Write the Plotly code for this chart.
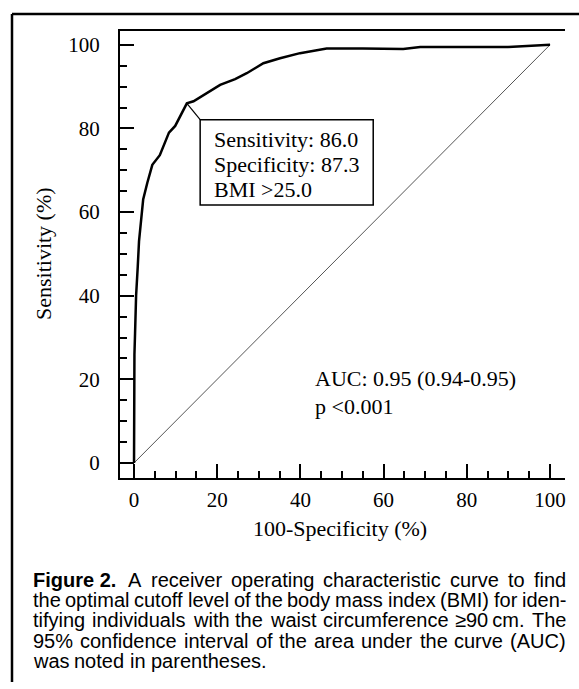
import plotly.graph_objects as go

# ---------------- data ----------------
fpr = [0, 0, 0.1, 0.25, 0.5, 0.9, 1.2, 1.7, 2.2, 3.2, 4.4, 6.2, 8.4, 9.9, 12.7,
       14.3, 17.9, 20.7, 24.3, 27.1, 31.1, 35.1, 39.9, 44.7, 46.3, 55.0, 64.7,
       68.8, 80.0, 90.0, 100.0]
tpr = [0, 20, 26, 31, 40, 47, 53, 58, 63, 67, 71.3, 73.6, 79.0, 80.6, 86.0,
       86.5, 88.8, 90.4, 91.8, 93.2, 95.6, 96.8, 98.0, 98.8, 99.1, 99.1, 99.0,
       99.5, 99.5, 99.5, 100.0]
ref_x = [0, 100]
ref_y = [0, 100]

cut_x, cut_y = 12.7, 86.0
box_lines = ["Sensitivity: 86.0", "Specificity: 87.3", "BMI >25.0"]
auc_lines = ["AUC: 0.95 (0.94-0.95)", "p <0.001"]
x_ticks = [0, 20, 40, 60, 80, 100]
y_ticks = [0, 20, 40, 60, 80, 100]
x_title = "100-Specificity (%)"
y_title = "Sensitivity (%)"
caption_label = "Figure 2."
caption = [
    "A receiver operating characteristic curve to find",
    "the optimal cutoff level of the body mass index (BMI) for iden-",
    "tifying individuals with the waist circumference \u226590\u2009cm. The",
    "95% confidence interval of the area under the curve (AUC)",
    "was noted in parentheses.",
]

# ---------------- layout helpers ----------------
W, H = 579, 689
PL, PR, PT, PB = 120, 565, 31, 478


def pxx(px):
    return (px - PL) / (PR - PL)


def pxy(py):
    return (PB - py) / (PB - PT)


SERIF = "Liberation Serif"
SANS = "Liberation Sans"
CAP_SIZE = 20

# Arial / Liberation Sans advance widths (per 1000 em)
_W = {" ": 278, ".": 278, ",": 278, "-": 333, "(": 333, ")": 333, "%": 889,
      "\u2265": 549, "\u2009": 200, ":": 278}
for ch in "0123456789":
    _W[ch] = 556
_W.update(dict(a=556, b=556, c=500, d=556, e=556, f=278, g=556, h=556, i=222,
               j=222, k=500, l=222, m=833, n=556, o=556, p=556, q=556, r=333,
               s=500, t=278, u=556, v=500, w=722, x=500, y=500, z=500))
_W.update(dict(A=667, B=667, C=722, D=722, E=667, F=611, G=778, H=722, I=278,
               M=833, T=611, U=722, S=667, P=667))
_WB = dict(_W)
_WB.update(dict(g=611, u=611, r=389, F=611, i=278, e=556))


def text_w(s, size, bold=False):
    tbl = _WB if bold else _W
    return sum(tbl.get(ch, 556) for ch in s) * size / 1000.0


fig = go.Figure()
fig.add_trace(go.Scatter(x=ref_x, y=ref_y, mode="lines",
                         line=dict(color="#555555", width=1), hoverinfo="skip"))
fig.add_trace(go.Scatter(x=fpr, y=tpr, mode="lines",
                         line=dict(color="black", width=2.5), hoverinfo="skip"))

axis_common = dict(
    showgrid=False, zeroline=False, showline=True, linecolor="black",
    linewidth=2, ticks="inside", ticklen=14, tickwidth=1.5, tickcolor="black",
    tickfont=dict(family=SERIF, size=21, color="black"),
    minor=dict(dtick=5, ticks="inside", ticklen=7, tickwidth=1.5, tickcolor="black"),
    fixedrange=True,
)

fig.update_layout(
    width=W, height=H,
    margin=dict(l=PL, r=W - PR, t=PT, b=H - PB),
    paper_bgcolor="white", plot_bgcolor="white",
    showlegend=False,
    xaxis=dict(axis_common, range=[-3.37, 103.6], tickvals=x_ticks,
               mirror=True, ticklabelstandoff=2),
    yaxis=dict(axis_common, range=[-3.6, 103.3], tickvals=y_ticks,
               mirror=False, ticklabelstandoff=14),
)

shapes = [
    dict(type="rect", xref="x", yref="y", x0=15.9, x1=57.5, y0=61.7, y1=82.1,
         line=dict(color="black", width=1.5)),
    dict(type="line", xref="x", yref="y", x0=cut_x, y0=cut_y, x1=15.9, y1=82.1,
         line=dict(color="black", width=1.2)),
    dict(type="line", xref="paper", yref="paper", x0=pxx(12), x1=pxx(12),
         y0=pxy(14), y1=pxy(682), line=dict(color="black", width=2.5)),
    dict(type="line", xref="paper", yref="paper", x0=pxx(12), x1=pxx(579),
         y0=pxy(14), y1=pxy(14), line=dict(color="black", width=2.5)),
]
fig.update_layout(shapes=shapes)

ann = []
for i, t in enumerate(box_lines):
    ann.append(dict(x=18.7, y=77.3 - 6.0 * i, xref="x", yref="y", text=t,
                    showarrow=False, xanchor="left", yanchor="middle",
                    font=dict(family=SERIF, size=22, color="black")))
for i, t in enumerate(auc_lines):
    ann.append(dict(x=43.0, y=20.1 - 6.7 * i, xref="x", yref="y", text=t,
                    showarrow=False, xanchor="left", yanchor="middle",
                    font=dict(family=SERIF, size=22, color="black")))
ann.append(dict(x=pxx(340), y=pxy(528), xref="paper", yref="paper", text=x_title,
                showarrow=False, xanchor="center", yanchor="middle",
                font=dict(family=SERIF, size=22, color="black")))
ann.append(dict(x=pxx(43), y=pxy(254), xref="paper", yref="paper", text=y_title,
                showarrow=False, xanchor="center", yanchor="middle", textangle=-90,
                font=dict(family=SERIF, size=22, color="black")))

# ---- justified caption, word by word ----
CAP_L, CAP_R = 32, 565


def cap_word(px, py, txt, bold=False):
    return dict(x=pxx(px), y=pxy(py), xref="paper", yref="paper",
                text=("<b>%s</b>" % txt) if bold else txt, showarrow=False,
                xanchor="left", yanchor="middle", borderpad=0,
                font=dict(family=SANS, size=CAP_SIZE, color="black"))


for i, line in enumerate(caption):
    py = 580 + 20.2 * i
    start = CAP_L
    if i == 0:
        ann.append(cap_word(CAP_L, py, caption_label, bold=True))
        start = CAP_L + text_w(caption_label, CAP_SIZE, bold=True) + 12
    words = line.split(" ")
    widths = [text_w(w, CAP_SIZE) for w in words]
    if i < len(caption) - 1 and len(words) > 1:
        gap = (CAP_R - start - sum(widths)) / (len(words) - 1)
    else:
        gap = text_w(" ", CAP_SIZE)
    cur = start
    for w, wd in zip(words, widths):
        ann.append(cap_word(cur, py, w))
        cur += wd + gap

fig.update_layout(annotations=ann)

fig.write_html("out.html")
